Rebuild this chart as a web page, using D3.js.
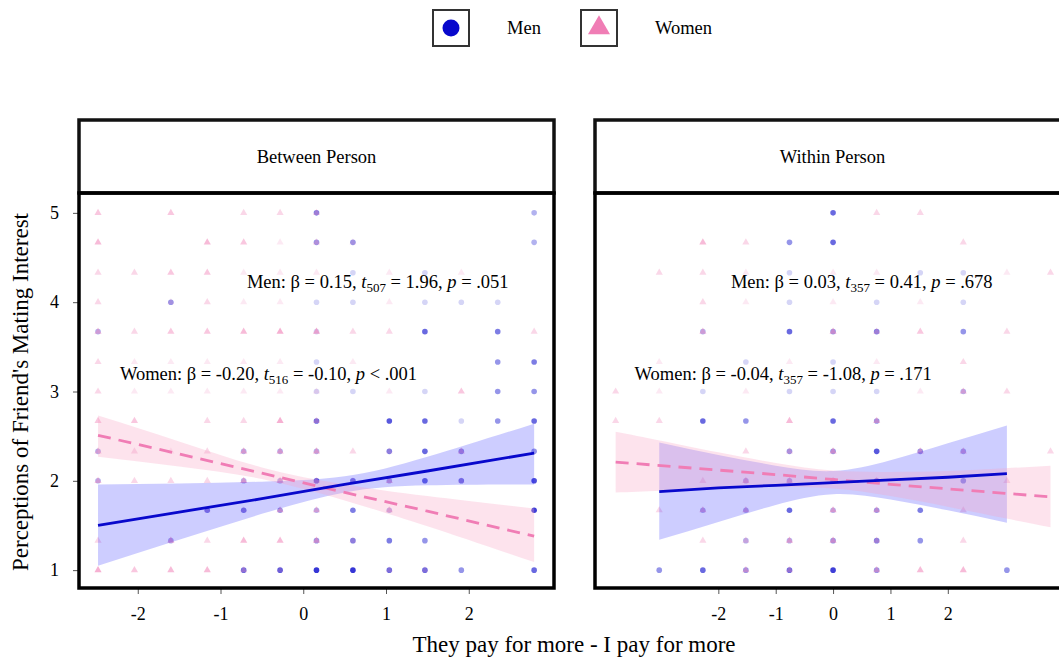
<!DOCTYPE html>
<html><head><meta charset="utf-8">
<script src="https://cdn.jsdelivr.net/npm/d3@7"></script>
<style>
body{margin:0;background:#fff}
text{font-family:"Liberation Serif","Times New Roman",serif;fill:#000}
</style></head>
<body><svg id="c" width="1059" height="659"></svg>
<script>
// ---------- DATA ----------
const yLevels = [1, 1.33, 1.67, 2, 2.33, 2.67, 3, 3.33, 3.67, 4, 4.33, 4.67, 5];
const xBetween = [-2.48, -2.04, -1.60, -1.16, -0.72, -0.28, 0.16, 0.60, 1.04, 1.47, 1.91, 2.35, 2.79];
const xWithin = [-3.79, -3.03, -2.27, -1.52, -0.76, 0, 0.76, 1.52, 2.27, 3.03, 3.79];
const xTicks = [-2, -1, 0, 1, 2];
const yTicks = [1, 2, 3, 4, 5];
const panelTitles = ["Between Person", "Within Person"];
const groups = ["Men", "Women"];

// [column index, y-level index, count]
const betweenMen = [
 [6,12,4],[12,12,2],
 [6,11,3],[7,11,3],[12,11,2],
 [7,10,1],[9,10,1],
 [2,9,3],[6,9,1],[7,9,1],[9,9,1],[10,9,1],[11,9,1],
 [0,8,2],[6,8,1],[9,8,5],[11,8,4],
 [6,7,1],[11,7,3],[12,7,4],
 [6,6,1],[7,6,1],[9,6,1],[11,6,3],[12,6,3],
 [6,5,5],[8,5,6],[9,5,5],[10,5,1],[11,5,3],[12,5,5],
 [0,4,2],[4,4,2],[5,4,2],[6,4,2],[8,4,4],[9,4,5],[10,4,3],[12,4,3],
 [0,3,2],[4,3,2],[5,3,2],[6,3,6],[7,3,4],[8,3,2],[9,3,5],[10,3,4],[12,3,7],
 [3,2,4],[4,2,4],[5,2,3],[6,2,2],[7,2,4],[8,2,2],[12,2,8],
 [2,1,2],[6,1,3],[7,1,4],[8,1,4],[9,1,3],
 [4,0,5],[5,0,6],[6,0,9],[7,0,9],[8,0,5],[9,0,5],[10,0,3],[12,0,5]
];
const betweenWomen = [
 [0,12,3],[2,12,3],[4,12,2],[5,12,2],[6,12,2],
 [0,11,4],[3,11,4],[4,11,3],[5,11,1],[6,11,2],[7,11,1],
 [0,10,2],[1,10,2],[2,10,3],[3,10,3],[4,10,1],[5,10,1],[6,10,1],[8,10,1],[10,10,1],
 [0,9,2],[2,9,1],[3,9,2],[4,9,1],[5,9,1],[8,9,1],
 [0,8,3],[1,8,2],[2,8,3],[3,8,3],[4,8,4],[5,8,5],[6,8,5],[7,8,2],[8,8,2],[12,8,2],
 [0,7,2],[1,7,1],[2,7,1],[3,7,1],[4,7,1],[5,7,1],[7,7,1],
 [0,6,2],[1,6,1],[2,6,1],[3,6,1],[4,6,1],[5,6,1],[6,6,1],[8,6,1],[10,6,3],
 [0,5,3],[1,5,3],[3,5,2],[4,5,2],[5,5,5],[6,5,2],
 [0,4,3],[1,4,2],[2,4,1],[3,4,2],[4,4,4],[5,4,4],[6,4,4],[7,4,2],[8,4,1],[10,4,3],
 [0,3,3],[1,3,2],[2,3,2],[3,3,2],[4,3,4],[5,3,4],[6,3,2],[7,3,1],[8,3,3],[10,3,1],
 [3,2,1],[4,2,1],[5,2,3],[6,2,3],[8,2,3],
 [0,1,2],[2,1,4],[3,1,2],[4,1,4],[5,1,4],[6,1,4],[7,1,1],
 [0,0,5],[1,0,3],[2,0,4],[3,0,4],[4,0,2],[5,0,1],[8,0,1],[9,0,1]
];
const withinMen = [
 [5,12,5],
 [4,11,3],[5,11,5],
 [4,10,1],[7,10,1],[8,10,1],
 [4,9,1],[6,9,1],[8,9,1],
 [2,8,2],[4,8,5],[5,8,3],[6,8,4],[8,8,3],
 [3,7,1],[5,7,1],
 [2,6,1],[4,6,1],[5,6,1],[6,6,1],[8,6,2],
 [2,5,5],[3,5,3],[5,5,5],[6,5,3],
 [4,4,3],[5,4,3],[6,4,6],[7,4,3],[8,4,2],
 [3,3,2],[4,3,2],[5,3,3],[6,3,3],[8,3,3],
 [2,2,2],[3,2,2],[4,2,5],[5,2,2],[6,2,3],[7,2,4],
 [3,1,2],[4,1,2],[5,1,3],[6,1,4],[7,1,3],
 [1,0,3],[2,0,5],[3,0,3],[4,0,5],[5,0,8],[6,0,3],[9,0,3]
];
const withinWomen = [
 [6,12,2],[7,12,2],
 [2,11,4],[3,11,2],[8,11,2],
 [1,10,2],[2,10,2],[3,10,1],[5,10,1],[6,10,1],[9,10,1],[10,10,2],
 [2,9,2],[3,9,1],[5,9,1],[7,9,1],
 [2,8,3],[5,8,4],[6,8,2],[7,8,3],[9,8,2],
 [1,7,1],[4,7,1],[6,7,1],[8,7,2],
 [0,6,2],[1,6,1],[3,6,1],[7,6,1],[8,6,3],[9,6,2],
 [0,5,2],[1,5,2],[4,5,4],[6,5,3],
 [3,4,2],[4,4,2],[5,4,4],[7,4,3],[8,4,3],[10,4,2],
 [2,3,2],[3,3,4],[4,3,3],[5,3,3],[6,3,3],[9,3,2],
 [1,2,2],[2,2,3],[3,2,3],[5,2,4],[6,2,3],[8,2,2],
 [2,1,2],[3,1,2],[4,1,4],[5,1,4],[6,1,2],[8,1,2],
 [3,0,3],[4,0,2],[6,0,3],[7,0,4],[8,0,4]
];

// fitted lines with 95% CI: [x, estimate, lower, upper]
const betweenMenFit = [[-2.48,1.50,1.05,1.96],[-1.5,1.65,1.34,1.97],[-0.5,1.80,1.63,1.99],[0.5,1.96,1.87,2.05],[1.5,2.11,1.95,2.27],[2.79,2.31,1.96,2.64]];
const betweenWomenFit = [[-2.48,2.51,2.27,2.73],[-1.5,2.30,2.16,2.44],[-0.5,2.085,2.02,2.15],[0.5,1.87,1.78,1.96],[1.5,1.66,1.49,1.83],[2.79,1.38,1.09,1.69]];
const withinMenFit = [[-3.03,1.88,1.34,2.43],[-2,1.92,1.54,2.29],[-1,1.95,1.73,2.17],[0,1.98,1.85,2.11],[1,2.01,1.79,2.23],[2,2.04,1.67,2.42],[3.03,2.08,1.53,2.62]];
const withinWomenFit = [[-3.79,2.21,1.87,2.55],[-3,2.17,1.89,2.45],[-2,2.12,1.92,2.32],[-1,2.07,1.93,2.20],[0,2.015,1.915,2.115],[1,1.96,1.83,2.10],[2,1.91,1.71,2.11],[3,1.86,1.58,2.14],[3.79,1.82,1.48,2.17]];

// statistics: [beta, df, t, operator, p]
const betweenStats = [["0.15","507","1.96","=",".051"],["-0.20","516","-0.10","<",".001"]];
const withinStats = [["0.03","357","0.41","=",".678"],["-0.04","357","-1.08","=",".171"]];

// ---------- DRAW ----------
const menColor = "#0808CC", womenColor = "#F07DB5";
const menBand = "#1a1aff", womenBand = "#F7A1C4";
const alpha = 0.17;
const op = n => 1 - Math.pow(1 - alpha, n);
const svg = d3.select("#c");
const yTop = 193, yBot = 588, hTop = 120;
const y = d3.scaleLinear().domain([0.8, 5.2]).range([588, 195]);

const panels = [
 {title: panelTitles[0], x0: 79, x1: 554, domain: [-2.71, 3.03], xs: xBetween, men: betweenMen, women: betweenWomen,
  menFit: betweenMenFit, womenFit: betweenWomenFit, stats: betweenStats, annPos: [[0.9, 4.23], [-0.42, 3.2]]},
 {title: panelTitles[1], x0: 595, x1: 1070, domain: [-4.15, 4.13], xs: xWithin, men: withinMen, women: withinWomen,
  menFit: withinMenFit, womenFit: withinWomenFit, stats: withinStats, annPos: [[0.5, 4.23], [-0.87, 3.2]]}
];

const defs = svg.append("defs");
panels.forEach((p, i) => {
  const x = d3.scaleLinear().domain(p.domain).range([p.x0, p.x1]);
  defs.append("clipPath").attr("id", "clip" + i).append("rect")
    .attr("x", p.x0).attr("y", yTop).attr("width", p.x1 - p.x0).attr("height", yBot - yTop);
  const g = svg.append("g");
  const inner = g.append("g").attr("clip-path", `url(#clip${i})`);

  // points
  inner.selectAll("circle.m").data(p.men).join("circle")
    .attr("cx", d => x(p.xs[d[0]])).attr("cy", d => y(yLevels[d[1]])).attr("r", 2.8)
    .attr("fill", menColor).attr("fill-opacity", d => op(d[2]));
  const tri = d3.symbol(d3.symbolTriangle, 22);
  inner.selectAll("path.w").data(p.women).join("path")
    .attr("d", tri).attr("transform", d => `translate(${x(p.xs[d[0]])},${y(yLevels[d[1]])})`)
    .attr("fill", womenColor).attr("fill-opacity", d => op(d[2]));

  // ribbons
  const area = d3.area().x(d => x(d[0])).y0(d => y(d[2])).y1(d => y(d[3])).curve(d3.curveNatural);
  inner.append("path").datum(p.menFit).attr("d", area).attr("fill", menBand).attr("fill-opacity", 0.22);
  inner.append("path").datum(p.womenFit).attr("d", area).attr("fill", womenBand).attr("fill-opacity", 0.3);
  const line = d3.line().x(d => x(d[0])).y(d => y(d[1]));
  inner.append("path").datum(p.womenFit).attr("d", line).attr("fill", "none")
    .attr("stroke", womenColor).attr("stroke-width", 2.8).attr("stroke-dasharray", "13,8");
  inner.append("path").datum(p.menFit).attr("d", line).attr("fill", "none")
    .attr("stroke", menColor).attr("stroke-width", 2.8);

  // annotations
  p.stats.forEach((s, k) => {
    const t = g.append("text").attr("x", x(p.annPos[k][0])).attr("y", y(p.annPos[k][1]) + 6)
      .attr("text-anchor", "middle").style("font-size", "18.5px");
    t.append("tspan").text(`${groups[k]}: β = ${s[0]}, `);
    t.append("tspan").attr("font-style", "italic").text("t");
    t.append("tspan").attr("dy", 4).style("font-size", "13px").text(s[1]);
    t.append("tspan").attr("dy", -4).text(` = ${s[2]}, `);
    t.append("tspan").attr("font-style", "italic").text("p");
    t.append("tspan").text(` ${s[3]} ${s[4]}`);
  });

  // x axis
  const ax = g.append("g").attr("transform", `translate(0,${yBot})`)
    .call(d3.axisBottom(x).tickValues(xTicks).tickSize(6).tickPadding(13).tickFormat(d => String(d)));
  ax.select(".domain").remove();
  ax.selectAll("line").attr("stroke", "#555");
  ax.selectAll("text").style("font-size", "18px").style("font-family", '"Liberation Serif",serif').attr("fill", "#111");

  if (i === 0) {
    const ay = g.append("g").attr("transform", `translate(${p.x0},0)`)
      .call(d3.axisLeft(y).tickValues(yTicks).tickSize(6).tickPadding(14).tickFormat(d => String(d)));
    ay.select(".domain").remove();
    ay.selectAll("line").attr("stroke", "#555");
    ay.selectAll("text").style("font-size", "18px").style("font-family", '"Liberation Serif",serif').attr("fill", "#111");
  }

  // frames
  g.append("rect").attr("x", p.x0).attr("y", hTop).attr("width", p.x1 - p.x0).attr("height", yTop - hTop)
    .attr("fill", "#fff").attr("stroke", "#111").attr("stroke-width", 3.5);
  g.append("text").attr("x", (p.x0 + p.x1) / 2).attr("y", (hTop + yTop) / 2 + 6)
    .attr("text-anchor", "middle").style("font-size", "18.5px").text(p.title);
  g.append("rect").attr("x", p.x0).attr("y", yTop).attr("width", p.x1 - p.x0).attr("height", yBot - yTop)
    .attr("fill", "none").attr("stroke", "#000").attr("stroke-width", 3.5);
});

// axis titles
svg.append("text").attr("transform", "translate(28,392) rotate(-90)").attr("text-anchor", "middle")
  .style("font-size", "23px").text("Perceptions of Friend's Mating Interest");
svg.append("text").attr("x", 574).attr("y", 652).attr("text-anchor", "middle")
  .style("font-size", "23px").text("They pay for more - I pay for more");

// legend
const lg = svg.append("g");
lg.append("rect").attr("x", 433).attr("y", 10).attr("width", 36).attr("height", 36)
  .attr("fill", "#fff").attr("stroke", "#333").attr("stroke-width", 2);
lg.append("circle").attr("cx", 451).attr("cy", 28).attr("r", 8.5).attr("fill", menColor);
lg.append("text").attr("x", 507).attr("y", 34).style("font-size", "18.5px").text(groups[0]);
lg.append("rect").attr("x", 581).attr("y", 10).attr("width", 36).attr("height", 36)
  .attr("fill", "#fff").attr("stroke", "#333").attr("stroke-width", 2);
lg.append("path").attr("d", d3.symbol(d3.symbolTriangle, 210)).attr("transform", "translate(599,28)")
  .attr("fill", womenColor);
lg.append("text").attr("x", 655).attr("y", 34).style("font-size", "18.5px").text(groups[1]);
</script></body></html>
